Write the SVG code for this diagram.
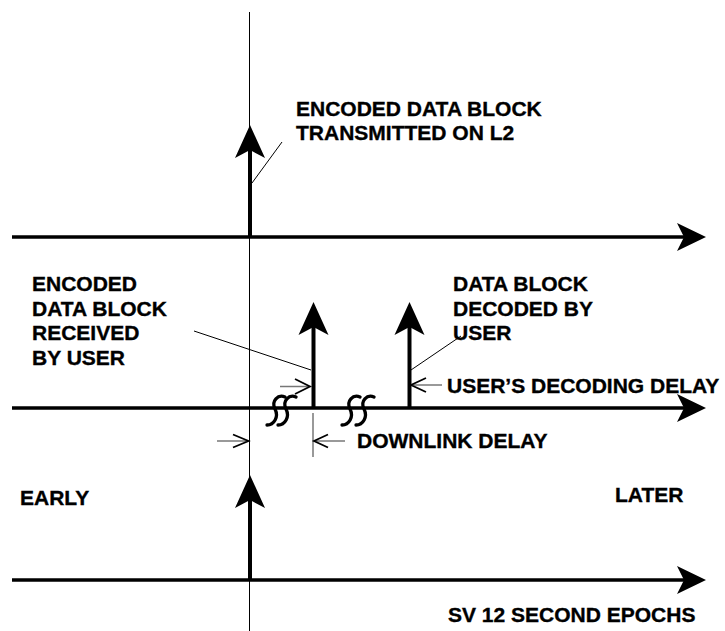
<svg xmlns="http://www.w3.org/2000/svg" width="725" height="631" viewBox="0 0 725 631">
<style>
text{font-family:"Liberation Sans",Arial,sans-serif;font-weight:bold;font-size:21px;fill:#000;stroke:#000;stroke-width:0.35}
.axis{stroke:#000;stroke-width:3.5;fill:none}
.stem{stroke:#000;stroke-width:4;fill:none}
.thin{stroke:#000;stroke-width:1;fill:none}
.dim{stroke:#777;stroke-width:1.5;fill:none}
.chev{stroke:#000;stroke-width:1.8;fill:none}
.sq{stroke:#000;stroke-width:3.3;fill:none;stroke-linecap:round}
.head{fill:#000}
</style>
<defs>
<path id="hr" d="M0,0 L-29,-14 L-22,0 L-29,14 Z"/>
<path id="hu" d="M0,0 L-15,33 L0,25 L15,33 Z"/>
<path id="sq" d="M9,-13 C2,-16 -5,-9 -1,-1 C3,7 -2,15 -9,15"/>
</defs>
<g id="reference-line">
<line class="thin" x1="249.5" y1="12" x2="249.5" y2="631"/>
</g>
<g id="connectors">
<line class="axis" x1="12" y1="237" x2="690" y2="237"/>
<use href="#hr" class="head" x="706" y="237"/>
<line class="axis" x1="12" y1="408" x2="690" y2="408"/>
<use href="#hr" class="head" x="706" y="408"/>
<line class="axis" x1="12" y1="580" x2="690" y2="580"/>
<use href="#hr" class="head" x="706" y="580"/>
<line class="stem" x1="250" y1="237" x2="250" y2="150"/>
<use href="#hu" class="head" x="250" y="125"/>
<line class="stem" x1="313.5" y1="408" x2="313.5" y2="325"/>
<use href="#hu" class="head" x="313.5" y="302"/>
<line class="stem" x1="409.5" y1="408" x2="409.5" y2="325"/>
<use href="#hu" class="head" x="409.5" y="302"/>
<line class="stem" x1="250" y1="580" x2="250" y2="500"/>
<use href="#hu" class="head" x="250" y="475"/>
<line class="thin" x1="252" y1="183" x2="282" y2="142"/>
<line class="thin" x1="194" y1="331" x2="311" y2="370"/>
<line class="thin" x1="411" y1="370" x2="461" y2="336"/>
<use href="#sq" class="sq" x="276" y="410"/>
<use href="#sq" class="sq" x="287" y="410"/>
<use href="#sq" class="sq" x="351" y="410"/>
<use href="#sq" class="sq" x="365" y="410"/>
<line class="dim" x1="280" y1="386.5" x2="309" y2="386.5"/>
<path class="chev" d="M295,379 L310,386.5 L295,394"/>
<line class="dim" x1="412" y1="385" x2="442" y2="385"/>
<path class="chev" d="M426,378 L411,385 L426,392"/>
<line class="dim" x1="217" y1="441" x2="248" y2="441"/>
<path class="chev" d="M233,434.5 L248.5,441 L233,447.5"/>
<line class="dim" x1="313" y1="413" x2="313" y2="457"/>
<line class="dim" x1="315" y1="441" x2="345" y2="441"/>
<path class="chev" d="M328,434.5 L314,441 L328,447.5"/>
</g>
<g id="label-transmitted">
<text x="296" y="116">ENCODED DATA BLOCK</text>
<text x="296" y="140">TRANSMITTED ON L2</text>
</g>
<g id="label-received">
<text x="32" y="291">ENCODED</text>
<text x="32" y="315.5">DATA BLOCK</text>
<text x="32" y="340">RECEIVED</text>
<text x="32" y="364.5">BY USER</text>
</g>
<g id="label-decoded">
<text x="453" y="291">DATA BLOCK</text>
<text x="453" y="315.5">DECODED BY</text>
<text x="453" y="340">USER</text>
</g>
<g id="label-decoding-delay">
<text x="447" y="393">USER’S DECODING DELAY</text>
</g>
<g id="label-downlink-delay">
<text x="357" y="448">DOWNLINK DELAY</text>
</g>
<g id="label-early">
<text x="20" y="505">EARLY</text>
</g>
<g id="label-later">
<text x="615" y="502">LATER</text>
</g>
<g id="label-epochs">
<text x="448" y="622">SV 12 SECOND EPOCHS</text>
</g>
</svg>
